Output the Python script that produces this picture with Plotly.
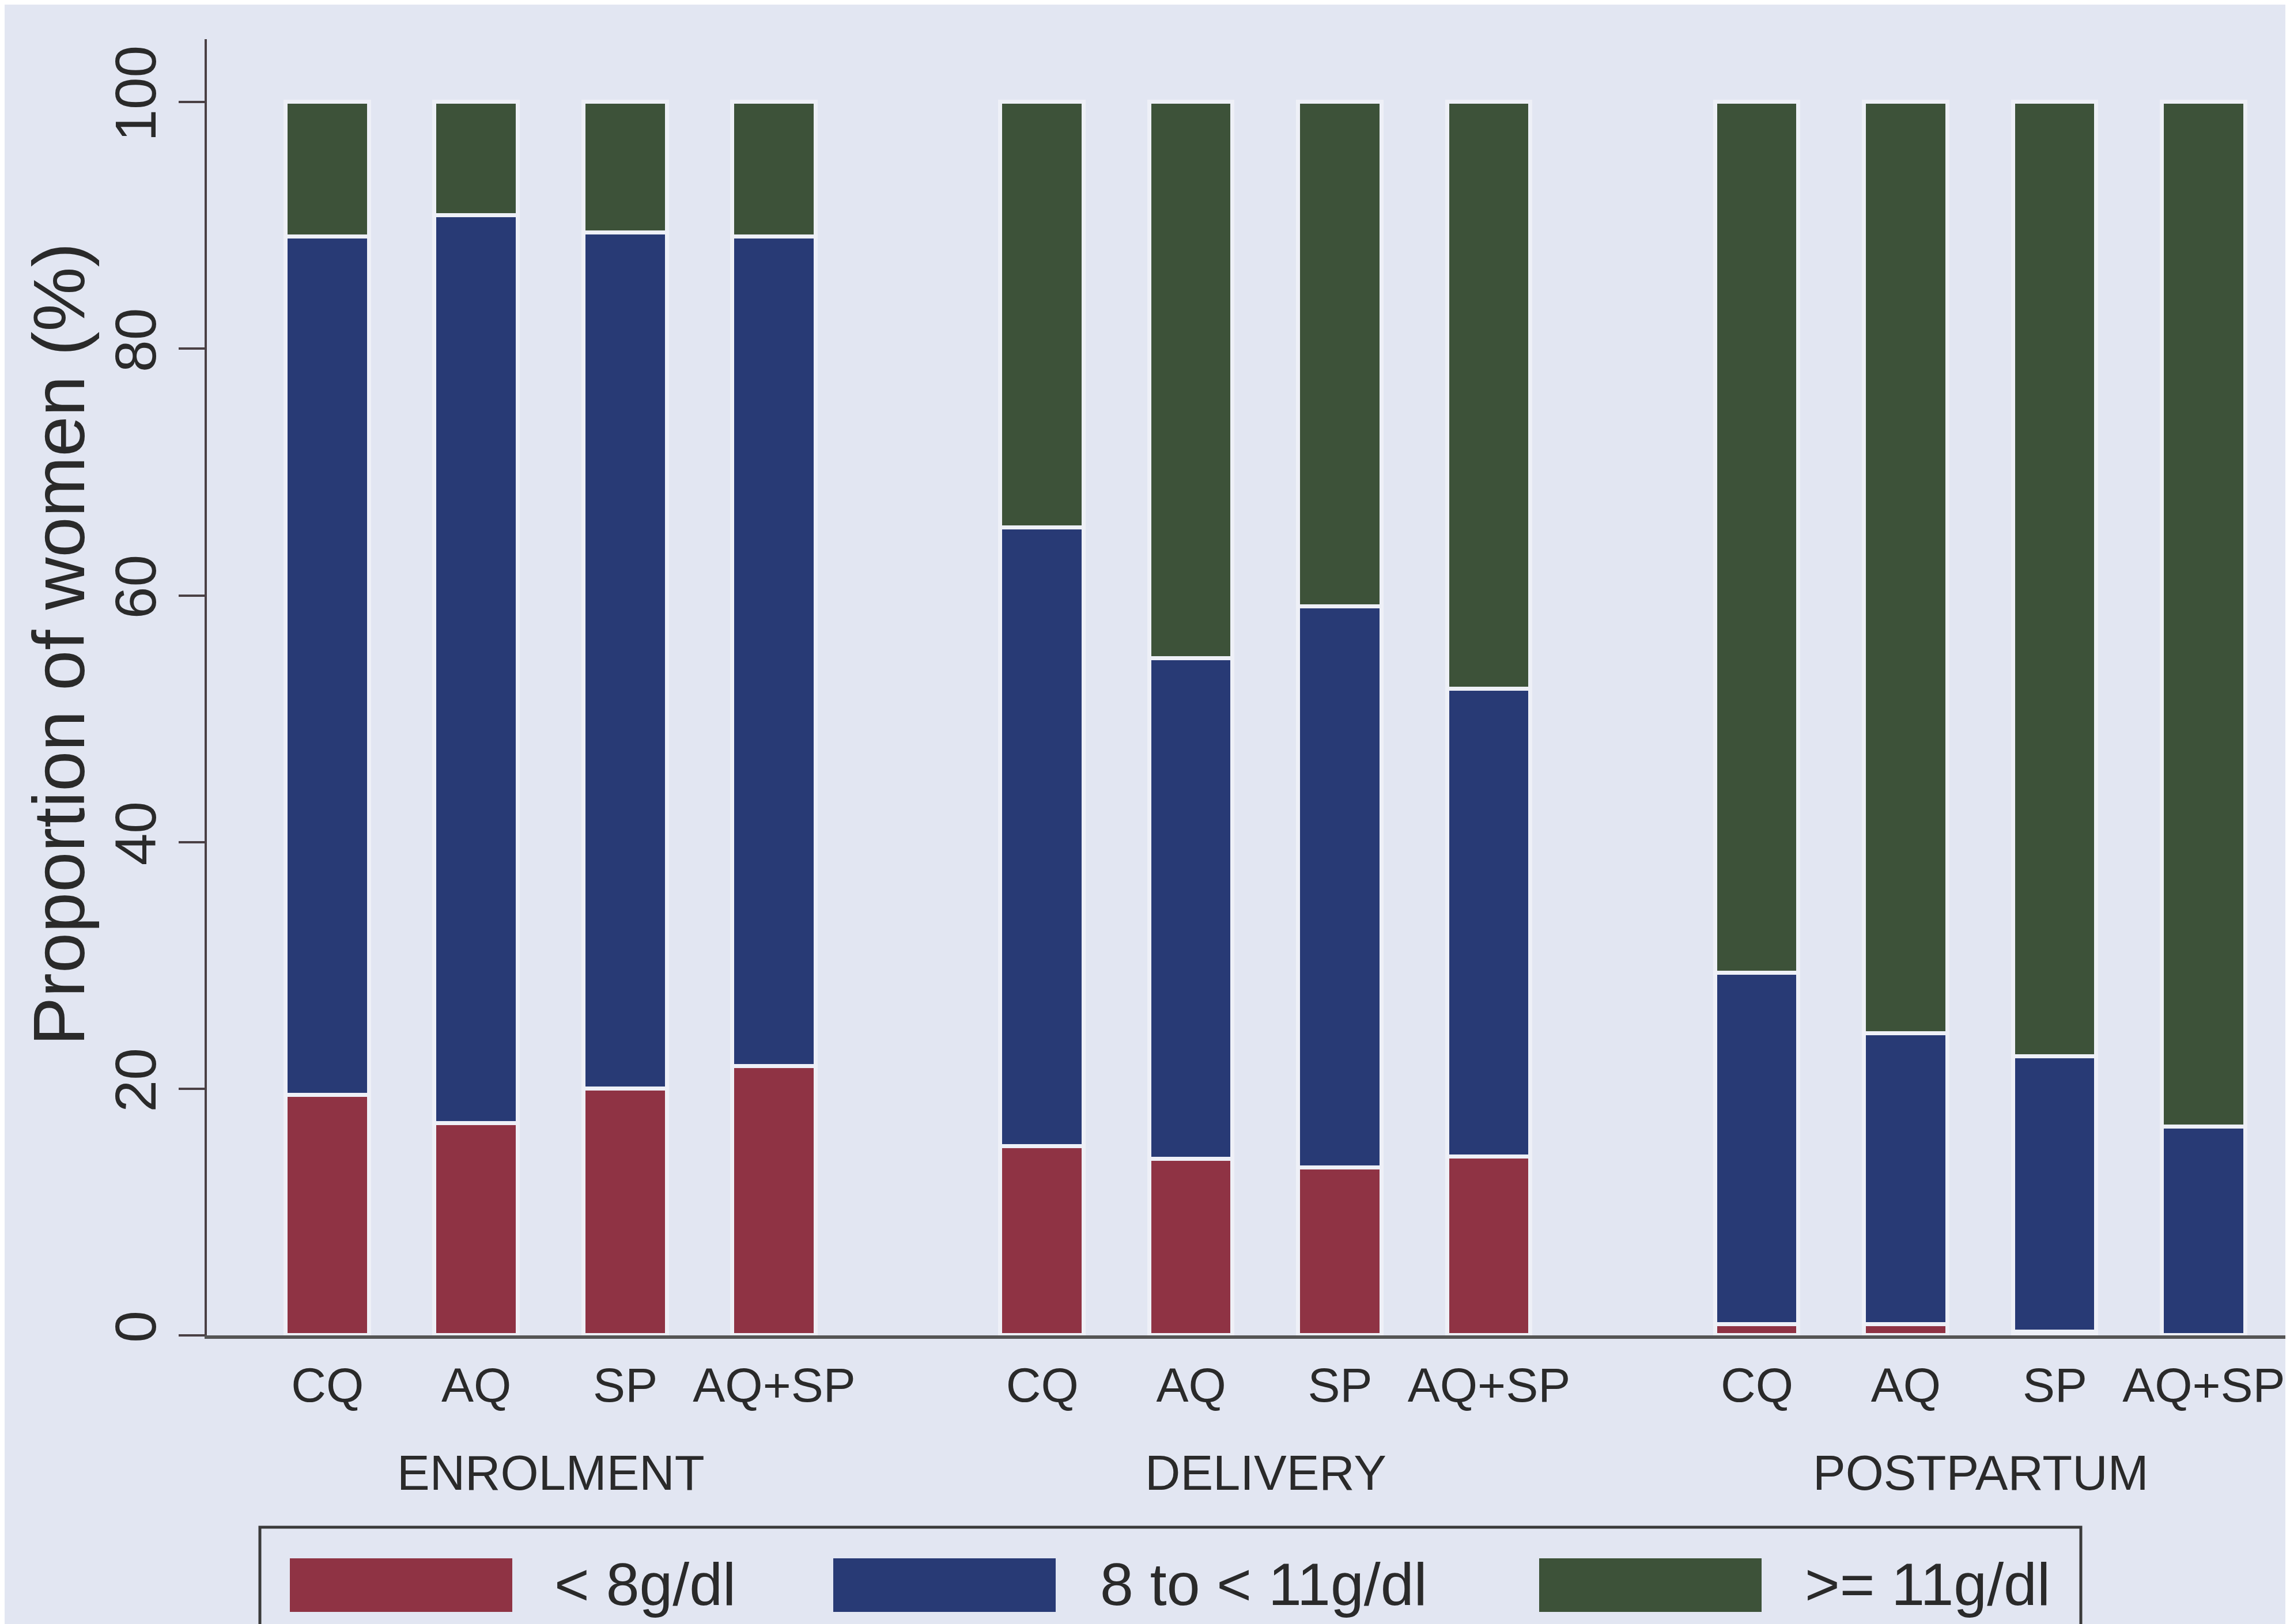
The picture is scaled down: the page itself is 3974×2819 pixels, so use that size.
import plotly.graph_objects as go

# ---- data ----
periods = ["ENROLMENT", "DELIVERY", "POSTPARTUM"]
regimens = ["CQ", "AQ", "SP", "AQ+SP"]
series_names = ["< 8g/dl", "8 to < 11g/dl", ">= 11g/dl"]
below_8 = [19.5, 17.2, 20.0, 21.8, 15.3, 14.3, 13.6, 14.5, 0.9, 0.9, 0.3, 0.0]
from_8_to_11 = [69.6, 73.6, 69.4, 67.3, 50.2, 40.6, 45.5, 37.9, 28.5, 23.6, 22.3, 16.9]
above_11 = [10.9, 9.2, 10.6, 10.9, 34.5, 45.1, 40.9, 47.6, 70.6, 75.5, 77.4, 83.1]
y_ticks = [0, 20, 40, 60, 80, 100]
y_title = "Proportion of women (%)"

# ---- styling ----
colors = ["#8F3344", "#283A75", "#3D5239"]
bg = "#E2E6F2"
font_family = "Arial, Liberation Sans, sans-serif"
text_color = "#2a2a2a"
W, H = 3974, 2819
m_l, m_r, m_t, m_b = 351, 0, 60, 509
group_gap = 0.8

# x positions for bars (group layout)
xpos = []
labels = []
for g, _ in enumerate(periods):
    for i, r in enumerate(regimens):
        xpos.append(g * (len(regimens) + group_gap) + i)
        labels.append(r)
group_centers = [g * (len(regimens) + group_gap) + (len(regimens) - 1) / 2 for g in range(len(periods))]

fig = go.Figure()
for name, vals, col in zip(series_names, [below_8, from_8_to_11, above_11], colors):
    fig.add_trace(go.Bar(
        x=xpos, y=vals, name=name, width=0.56,
        marker=dict(color=col, line=dict(color="#EEF0F7", width=7)),
        showlegend=False,
    ))

fig.update_layout(
    barmode="stack",
    width=W, height=H,
    margin=dict(l=m_l, r=m_r, t=m_t, b=m_b, pad=0),
    paper_bgcolor=bg, plot_bgcolor=bg,
    font=dict(family=font_family, color=text_color),
    bargap=0,
)
fig.update_xaxes(
    range=[-0.81, 13.21], tickvals=xpos, ticktext=labels,
    showgrid=False, zeroline=False, showline=True, linecolor="#555555", linewidth=6,
    ticks="", ticklabelstandoff=8,
    tickfont=dict(size=84, family=font_family, color=text_color),
)
fig.update_yaxes(
    range=[0, 105.1], tickvals=y_ticks, ticktext=[str(v) for v in y_ticks],
    showgrid=False, zeroline=False, showline=True, linecolor="#4a4044", linewidth=4,
    ticks="outside", ticklen=45, tickwidth=4, tickcolor="#4a4044",
    tickangle=-90, ticklabelstandoff=0,
    tickfont=dict(size=100, family=font_family, color=text_color),
)

plot_h = H - m_t - m_b
plot_w = W - m_l - m_r

def px_to_paper_y(py):
    return (H - m_b - py) / plot_h

def px_to_paper_x(px):
    return (px - m_l) / plot_w

# y-axis title
fig.add_annotation(x=px_to_paper_x(94), xref="paper", y=px_to_paper_y(1110), yref="paper",
                   text=y_title, textangle=-90, showarrow=False,
                   xanchor="center", yanchor="middle",
                   font=dict(size=126, family=font_family, color=text_color))

# group labels
for c, p in zip(group_centers, periods):
    fig.add_annotation(x=c, xref="x", y=px_to_paper_y(2548), yref="paper",
                       text=p, showarrow=False, xanchor="center", yanchor="middle",
                       font=dict(size=85, family=font_family, color=text_color))

# legend box (drawn manually to match wide swatches)
fig.add_shape(type="rect", xref="paper", yref="paper",
              x0=px_to_paper_x(443), x1=px_to_paper_x(3603),
              y0=px_to_paper_y(2643), y1=px_to_paper_y(2950),
              line=dict(color="#3a3a3a", width=5), fillcolor="rgba(0,0,0,0)")
sw_left = [495, 1438, 2663]
sw_w = 386
txt_left = [952, 1899, 3122]
for name, col, sl, tl in zip(series_names, colors, sw_left, txt_left):
    fig.add_shape(type="rect", xref="paper", yref="paper",
                  x0=px_to_paper_x(sl), x1=px_to_paper_x(sl + sw_w),
                  y0=px_to_paper_y(2790), y1=px_to_paper_y(2697),
                  line=dict(width=0), fillcolor=col)
    fig.add_annotation(x=px_to_paper_x(tl), xref="paper", y=px_to_paper_y(2742), yref="paper",
                       text=name, showarrow=False, xanchor="left", yanchor="middle",
                       font=dict(size=104, family=font_family, color=text_color))

fig.write_html("out.html")
